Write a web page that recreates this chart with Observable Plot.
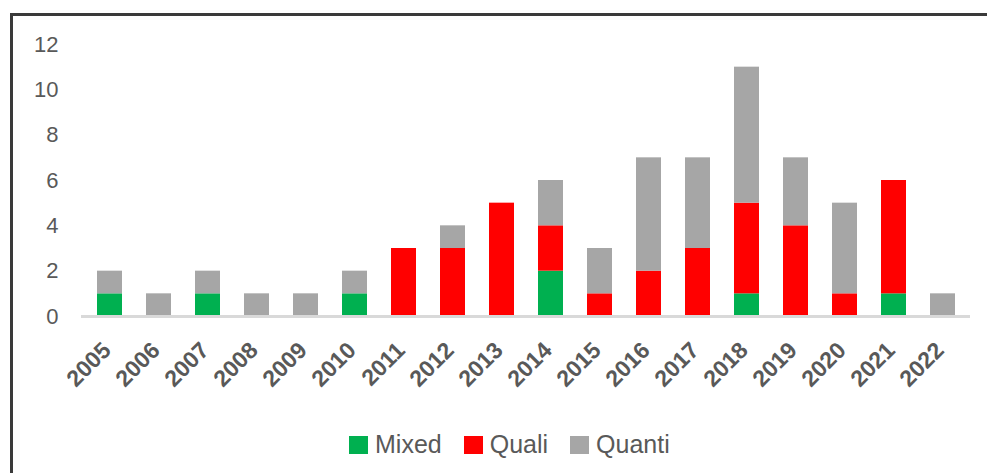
<!DOCTYPE html>
<html>
<head>
<meta charset="utf-8">
<script src="https://cdn.jsdelivr.net/npm/d3@7"></script>
<script src="https://cdn.jsdelivr.net/npm/@observablehq/plot@0.6"></script>
<style>
  html, body { margin: 0; padding: 0; background: #fff; overflow: hidden; }
  #wrap { position: relative; width: 987px; height: 473px; overflow: hidden; font-family: "Liberation Sans", Arial, sans-serif; }
  #frame { position: absolute; left: 10px; top: 13px; width: 1100px; height: 600px; border: 3px solid #3a3a3a; box-sizing: border-box; pointer-events: none; }
  #chart { position: absolute; left: 0; top: 0; }
  #legend { position: absolute; left: 349px; top: 430px; display: flex; align-items: center; font-size: 25px; color: #595959; }
  .item { display: flex; align-items: center; margin-right: 22px; }
  .sw { width: 19px; height: 18px; margin-right: 7px; }
</style>
</head>
<body>
<div id="wrap">
  <div id="chart"></div>
  <div id="frame"></div>
  <div id="legend"></div>
</div>
<script>
const years = ["2005","2006","2007","2008","2009","2010","2011","2012","2013","2014","2015","2016","2017","2018","2019","2020","2021","2022"];
const series = ["Mixed", "Quali", "Quanti"];
const mixed  = [1,0,1,0,0,1,0,0,0,2,0,0,0,1,0,0,1,0];
const quali  = [0,0,0,0,0,0,3,3,5,2,1,2,3,4,4,1,5,0];
const quanti = [1,1,1,1,1,1,0,1,0,2,2,5,4,6,3,4,0,1];
const yTicks = [0,2,4,6,8,10,12];
const colors = ["#00B050", "#FF0000", "#A6A6A6"];

const valuesBySeries = [mixed, quali, quanti];
const rows = [];
series.forEach((s, si) => {
  years.forEach((y, i) => rows.push({year: y, series: s, value: valuesBySeries[si][i]}));
});

const plot = Plot.plot({
  width: 987,
  height: 400,
  marginTop: 44,
  marginBottom: 84,
  marginLeft: 81,
  marginRight: 17,
  style: {fontFamily: "'Liberation Sans', Arial, sans-serif", background: "transparent"},
  x: {domain: years, paddingInner: 0.49, paddingOuter: 0.245},
  y: {domain: [0, 12]},
  color: {domain: series, range: colors},
  marks: [
    Plot.barY(rows, Plot.stackY({x: "year", y: "value", fill: "series", order: series})),
    Plot.ruleY([0], {stroke: "#D9D9D9", strokeWidth: 3}),
    Plot.axisY({ticks: yTicks, tickSize: 0, tickPadding: 23, fontSize: 22, color: "#595959", label: null}),
    Plot.axisX({tickSize: 0, tickRotate: -45, tickPadding: 30, dx: -3, fontSize: 23, fontWeight: "bold", color: "#595959", label: null})
  ]
});
document.getElementById("chart").appendChild(plot);

const legend = document.getElementById("legend");
series.forEach((s, i) => {
  const item = document.createElement("div");
  item.className = "item";
  const sw = document.createElement("div");
  sw.className = "sw";
  sw.style.background = colors[i];
  const t = document.createElement("span");
  t.textContent = s;
  item.appendChild(sw);
  item.appendChild(t);
  legend.appendChild(item);
});
</script>
</body>
</html>
